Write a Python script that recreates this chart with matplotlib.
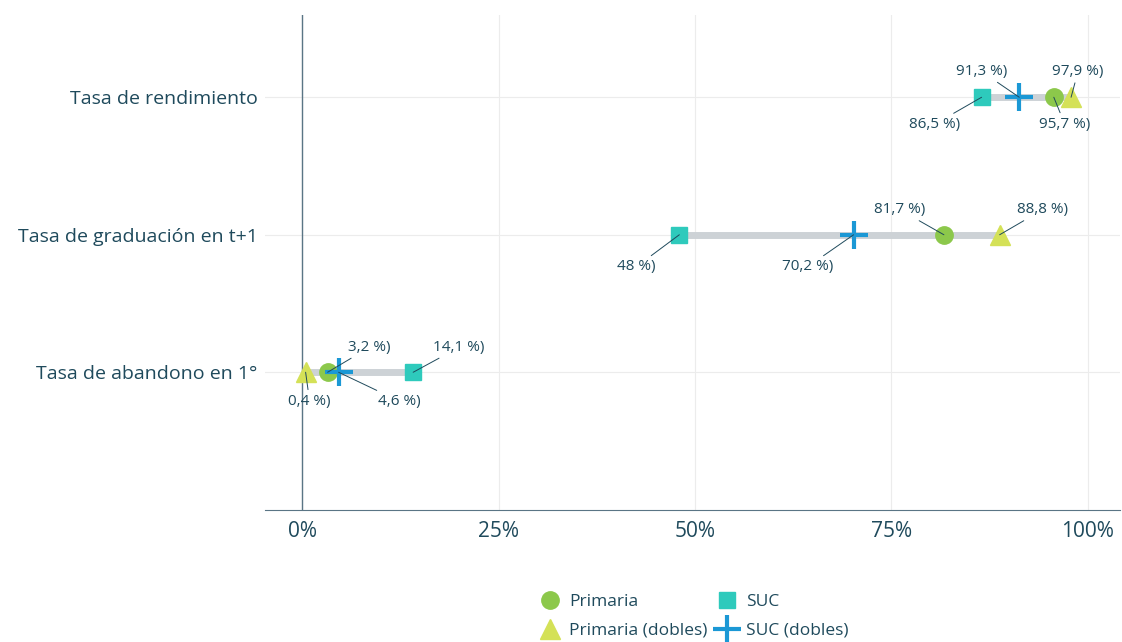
import matplotlib.pyplot as plt
from matplotlib.lines import Line2D

categories = ["Tasa de abandono en 1°", "Tasa de graduación en t+1", "Tasa de rendimiento"]
primaria = [3.2, 81.7, 95.7]
primaria_dobles = [0.4, 88.8, 97.9]
suc = [14.1, 48.0, 86.5]
suc_dobles = [4.6, 70.2, 91.3]

TEXT = "#1f4a5c"
C_PRI = "#8cc84b"
C_PRID = "#d4e157"
C_SUC = "#2ecabc"
C_SUCD = "#1b98d5"

# label offsets in pixels (dx, dy) per series, per category (abandono, graduación, rendimiento)
off_pri = [(42, 25), (-44, 25), (11, -27)]
off_prid = [(4, -29), (43, 25), (7, 26)]
off_suc = [(46, 25), (-43, -32), (-47, -27)]
off_sucd = [(61, -29), (-46, -32), (-38, 26)]

plt.rcParams["font.family"] = ["Open Sans", "DejaVu Sans"]

fig, ax = plt.subplots(figsize=(11.22, 6.42), dpi=100)
fig.subplots_adjust(left=0.236, right=0.998, top=0.977, bottom=0.206)

y = list(range(len(categories)))
for i in y:
    vals = [primaria[i], primaria_dobles[i], suc[i], suc_dobles[i]]
    ax.plot([min(vals), max(vals)], [i, i], color="#cdd2d6", lw=5, zorder=2,
            solid_capstyle="butt")

series = [
    (primaria, "o", C_PRI, 12.5, "Primaria", off_pri, {}),
    (primaria_dobles, "^", C_PRID, 14.5, "Primaria (dobles)", off_prid, {}),
    (suc, "s", C_SUC, 12, "SUC", off_suc, {}),
    (suc_dobles, "+", C_SUCD, 20, "SUC (dobles)", off_sucd, {"markeredgewidth": 3}),
]
handles = []
for vals, m, c, ms, lab, offs, kw in series:
    ax.plot(vals, y, ls="none", marker=m, color=c, markersize=ms, zorder=3, **kw)
    handles.append(Line2D([], [], ls="none", marker=m, color=c, markersize=ms, **kw))
    for i, v in enumerate(vals):
        txt = f"{v:.1f}".replace(".", ",").replace(",0", "") + " %)"
        ax.annotate(txt, (v, i), xytext=offs[i], textcoords="offset pixels",
                    ha="center", va="center", fontsize=11, color=TEXT,
                    arrowprops=dict(arrowstyle="-", color=TEXT, lw=0.7,
                                    shrinkA=1, shrinkB=0), zorder=4)

ax.set_xlim(-4.8, 104.1)
ax.set_ylim(-1, 2.6)
ax.set_xticks([0, 25, 50, 75, 100])
ax.set_xticklabels(["0%", "25%", "50%", "75%", "100%"])
ax.set_yticks(y)
ax.set_yticklabels(categories)
ax.tick_params(axis="x", labelsize=15, colors=TEXT, length=0, pad=8)
ax.tick_params(axis="y", labelsize=14, colors=TEXT, length=0, pad=5)
ax.grid(True, color="#ececec", lw=0.8, zorder=0)
ax.set_axisbelow(True)
for s in ["top", "right", "left"]:
    ax.spines[s].set_visible(False)
ax.spines["bottom"].set_color("#5a7585")
ax.axvline(0, color="#5a7585", lw=1, zorder=1)

fig.legend(handles, [s[4] for s in series], loc="upper center",
           bbox_to_anchor=(0.617, 0.1), ncol=2, frameon=False, fontsize=12.5,
           labelcolor=TEXT, handletextpad=0.3, columnspacing=0.3, labelspacing=0.75,
           handlelength=1.6)

fig.savefig("out.png", dpi=100)
